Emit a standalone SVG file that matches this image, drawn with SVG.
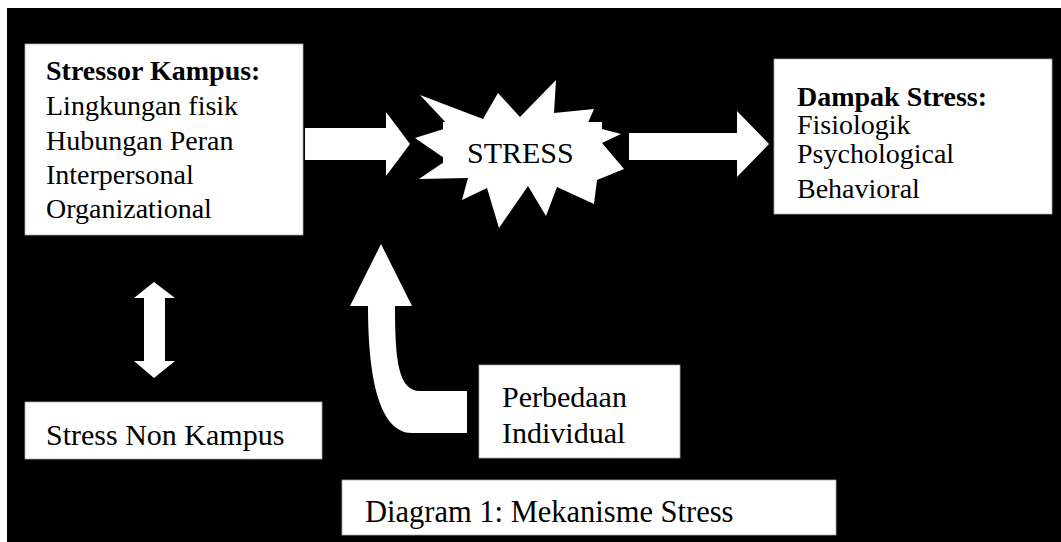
<svg xmlns="http://www.w3.org/2000/svg" width="1061" height="542" viewBox="0 0 1061 542">
<style>
.box{fill:#fff;stroke:#aaa;stroke-width:0.8}
.shape{fill:#fff;stroke:none}
text{font-family:"Liberation Serif","Times New Roman",serif;fill:#000}
.b{font-weight:bold}
</style>
<rect x="0" y="0" width="1061" height="542" fill="#fff"/>
<rect x="7" y="8" width="1054" height="534" fill="#000"/>
<g id="connectors">
<polygon class="shape" points="305,128 386,128 386,112 410,144 386,176 386,160 305,160"/>
<polygon class="shape" points="629,133 737,133 737,111 769,144 737,177 737,160 629,160"/>
<polygon class="shape" points="154,282 175,298 165,298 165,361 175,361 154,378 134,361 144,361 144,298 134,298"/>
<path class="shape" d="M381,244 L412,306 L395,306 C395,360 398,391 420,391 L467,391 L467,433 L412,433 C380,433 368,380 368,306 L350,306 Z"/>
</g>
<g id="stressor">
<rect class="box" x="25" y="44" width="278" height="191"/>
<text x="46" y="80" font-size="28" class="b">Stressor Kampus:</text>
<text x="46" y="115" font-size="28">Lingkungan fisik</text>
<text x="46" y="150" font-size="28">Hubungan Peran</text>
<text x="46" y="184" font-size="28">Interpersonal</text>
<text x="46" y="218" font-size="28">Organizational</text>
</g>
<g id="stress">
<polygon class="shape" points="420,95 483,119 498,93 520,117 556,80 554,113 594,109 587,125 621,134 602,143 624,169 597,180 594,204 557,187 546,216 528,186 499,228 487,188 462,200 468,178 419,179 447,160 415,138 450,127"/>
<rect class="shape" x="443" y="122" width="159" height="56"/>
<text x="467" y="163" font-size="30">STRESS</text>
</g>
<g id="dampak">
<rect class="box" x="774" y="59" width="278" height="155"/>
<text x="797" y="106" font-size="28" class="b">Dampak Stress:</text>
<text x="797" y="134" font-size="28">Fisiologik</text>
<text x="797" y="163" font-size="28">Psychological</text>
<text x="797" y="198" font-size="28">Behavioral</text>
</g>
<g id="nonkampus">
<rect class="box" x="25" y="402" width="297" height="57"/>
<text x="46" y="445" font-size="30">Stress Non Kampus</text>
</g>
<g id="perbedaan">
<rect class="box" x="479" y="365" width="201" height="93"/>
<text x="502" y="407" font-size="30">Perbedaan</text>
<text x="502" y="443" font-size="30">Individual</text>
</g>
<g id="caption">
<rect class="box" x="342" y="480" width="494" height="55"/>
<text x="365" y="522" font-size="30.5">Diagram 1: Mekanisme Stress</text>
</g>
</svg>
